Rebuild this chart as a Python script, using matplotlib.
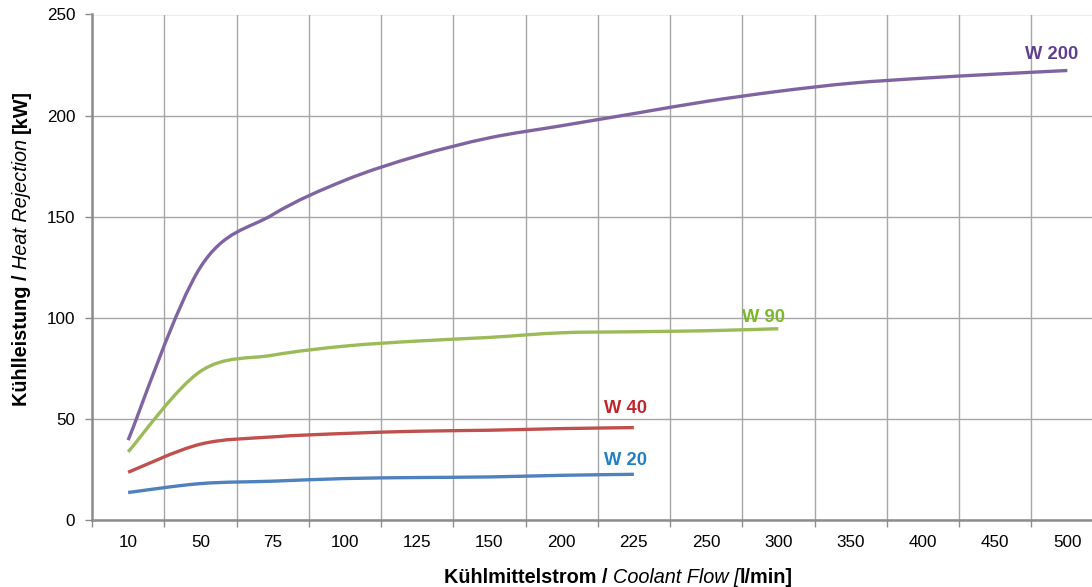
import matplotlib
matplotlib.use("Agg")
import matplotlib.pyplot as plt
from matplotlib.path import Path
from matplotlib.patches import PathPatch
import numpy as np

categories = ["10", "50", "75", "100", "125", "150", "200", "225", "250", "300", "350", "400", "450", "500"]
w200 = [39.5, 125, 151, 168, 180, 189, 195, 201, 207, 212, 216, 218.5, 220.5, 222.3]
w90 = [33.7, 73.5, 81.5, 86, 88.5, 90.3, 92.6, 93.1, 93.6, 94.6]
w40 = [23.6, 37.5, 41.1, 42.8, 43.9, 44.4, 45.2, 45.7]
w20 = [13.6, 18.0, 19.2, 20.5, 21.0, 21.3, 22.1, 22.6]
y_ticks = [0, 50, 100, 150, 200, 250]

series = [
    ("W 200", w200, "#8064A2", "#5F3F8F"),
    ("W 90", w90, "#9BBB59", "#7AB929"),
    ("W 40", w40, "#C0504D", "#C0272D"),
    ("W 20", w20, "#4F81BD", "#1F7FC4"),
]

plt.rcParams['font.family'] = ['Liberation Sans', 'DejaVu Sans']

fig = plt.figure(figsize=(10.92, 5.87), dpi=100)
ax = fig.add_axes([92 / 1092, 1 - 520 / 587, (1103.5 - 92) / 1092, (520 - 14.5) / 587])


def smooth_path(vals):
    # Smoothed line (Excel-style cubic Bezier through the data points)
    x = np.arange(len(vals), dtype=float)
    y = np.asarray(vals, dtype=float)
    pts = np.column_stack([x, y])
    n = len(pts)
    verts = [pts[0]]
    codes = [Path.MOVETO]
    for i in range(n - 1):
        p0 = pts[i - 1] if i > 0 else pts[i]
        p1 = pts[i]
        p2 = pts[i + 1]
        p3 = pts[i + 2] if i + 2 < n else pts[i + 1]
        c1 = p1 + (p2 - p0) / 6.0
        c2 = p2 - (p3 - p1) / 6.0
        verts += [c1, c2, p2]
        codes += [Path.CURVE4] * 3
    return Path(verts, codes)


for name, vals, col, lcol in series:
    patch = PathPatch(smooth_path(vals), facecolor='none', edgecolor=col, lw=2.4,
                      capstyle='butt', joinstyle='round', zorder=3)
    ax.add_patch(patch)

ax.set_xlim(-0.5, len(categories) - 0.5)
ax.set_ylim(0, 250)
ax.set_xticks(np.arange(len(categories)))
ax.set_xticklabels(categories, fontsize=12.3)
ax.tick_params(axis='x', which='major', length=0, pad=11)
ax.set_xticks(np.arange(len(categories) + 1) - 0.5, minor=True)
ax.tick_params(axis='x', which='minor', length=5, width=1, color='#8C8C8C')
ax.set_yticks(y_ticks)
ax.set_yticklabels([str(v) for v in y_ticks], fontsize=12.3)
ax.tick_params(axis='y', length=5, width=1, color='#8C8C8C', pad=7)

ax.grid(True, axis='y', which='major', color='#A6A6A6', lw=1)
ax.grid(True, axis='x', which='minor', color='#A6A6A6', lw=1)
ax.grid(False, axis='x', which='major')
ax.set_axisbelow(True)
for s in ['top', 'right']:
    ax.spines[s].set_visible(False)
for s in ['left', 'bottom']:
    ax.spines[s].set_color('#8C8C8C')
    ax.spines[s].set_linewidth(1.8)

# Series labels
label_pos = {"W 200": (12.78, 230), "W 90": (8.8, 100.3), "W 40": (6.88, 55.1), "W 20": (6.88, 29.5)}
for name, vals, col, lcol in series:
    x, y = label_pos[name]
    ax.text(x, y, name, color=lcol, fontsize=13.2, fontweight='bold', ha='center', va='center', zorder=4)

# Axis titles built from pieces (bold / italic)
fig.canvas.draw()
renderer = fig.canvas.get_renderer()


def place_pieces(pieces, x0, y0, rotation=0, size=14.3):
    texts = []
    total = 0
    for s, w, st in pieces:
        t = fig.text(0, 0, s, fontsize=size, fontweight=w, fontstyle=st, rotation=rotation,
                     ha='left', va='baseline', rotation_mode='anchor')
        bb = t.get_window_extent(renderer)
        L = bb.height if rotation == 90 else bb.width
        texts.append((t, L))
        total += L
    W, H = fig.bbox.width, fig.bbox.height
    if rotation == 90:
        pos = y0 - total / 2
        for t, L in texts:
            t.set_position((x0 / W, pos / H))
            pos += L
    else:
        pos = x0 - total / 2
        for t, L in texts:
            t.set_position((pos / W, y0 / H))
            pos += L


place_pieces([("Kühlmittelstrom / ", 'bold', 'normal'),
              ("Coolant Flow ", 'normal', 'italic'),
              ("[", 'normal', 'italic'),
              ("l/min]", 'bold', 'normal')],
             618, 587 - 583, rotation=0)
place_pieces([("Kühlleistung / ", 'bold', 'normal'),
              ("Heat Rejection ", 'normal', 'italic'),
              ("[kW]", 'bold', 'normal')],
             27, 587 - 248, rotation=90)

fig.savefig("out.png", dpi=100)
